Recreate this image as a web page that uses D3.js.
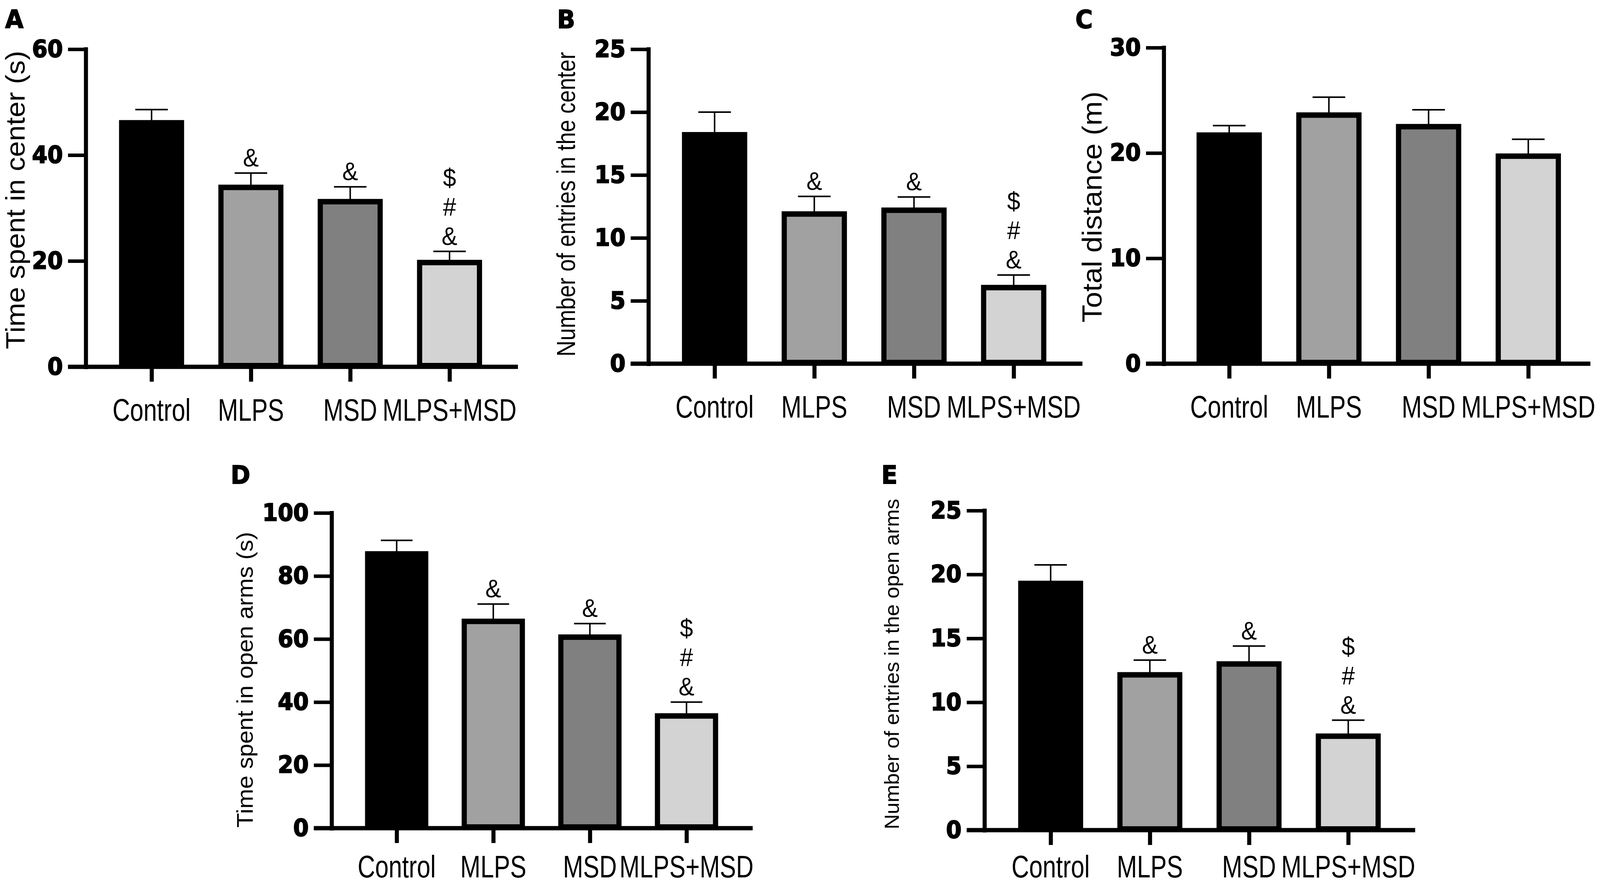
<!DOCTYPE html>
<html><head><meta charset="utf-8">
<script src="https://cdn.jsdelivr.net/npm/d3@7"></script>
<style>html,body{margin:0;padding:0;background:#fff;overflow:hidden;width:100%;height:100%;} svg{display:block;background:#fff;width:100vw;height:100vh;}</style>
</head><body><svg id="chart" viewBox="0 0 4328 2268" preserveAspectRatio="none"></svg>
<script>
// ---------- data ----------
const categories = ["Control", "MLPS", "MSD", "MLPS+MSD"];

const meanA = [46.1, 33.9, 31.2, 19.7];
const semA  = [2.5, 2.7, 2.8, 2.1];
const ticksA = [0, 20, 40, 60];
const annotA = [[], ["&"], ["&"], ["&", "#", "$"]];

const meanB = [18.2, 11.9, 12.2, 6.05];
const semB  = [1.8, 1.4, 1.05, 1.0];
const ticksB = [0, 5, 10, 15, 20, 25];
const annotB = [[], ["&"], ["&"], ["&", "#", "$"]];

const meanC = [21.7, 23.6, 22.5, 19.7];
const semC  = [0.9, 1.7, 1.6, 1.6];
const ticksC = [0, 10, 20, 30];
const annotC = [[], [], [], []];

const meanD = [87.0, 65.6, 60.6, 35.6];
const semD  = [4.3, 5.5, 4.3, 4.4];
const ticksD = [0, 20, 40, 60, 80, 100];
const annotD = [[], ["&"], ["&"], ["&", "#", "$"]];

const meanE = [19.3, 12.15, 13.0, 7.35];
const semE  = [1.45, 1.15, 1.4, 1.25];
const ticksE = [0, 5, 10, 15, 20, 25];
const annotE = [[], ["&"], ["&"], ["&", "#", "$"]];

const panelLetters = ["A", "B", "C", "D", "E"];
const yTitles = [
  "Time spent in center (s)",
  "Number of entries in the center",
  "Total distance (m)",
  "Time spent in open arms (s)",
  "Number of entries in the open arms"
];

// ---------- style / layout ----------
const fills = ["#000000", "#a1a1a1", "#808080", "#d3d3d3"];
const layouts = [
  {axisX: 232,  yTop: 126,  yBot: 939,  x0: 410,  x1: 1216, xEnd: 1401, lx: 14,   ly: 72,   tx: 67,   ty: 512,  ts: 73, narrow: false},
  {axisX: 1754, yTop: 126,  yBot: 931,  x0: 1933, x1: 2742, xEnd: 2928, lx: 1507, ly: 72,   tx: 1555, ty: 523,  ts: 71, narrow: true},
  {axisX: 3148, yTop: 122,  yBot: 931,  x0: 3325, x1: 4134, xEnd: 4302, lx: 2909, ly: 72,   tx: 2980, ty: 530,  ts: 75, narrow: false},
  {axisX: 897,  yTop: 1313, yBot: 2120, x0: 1073, x1: 1857, xEnd: 2036, lx: 624,  ly: 1238, tx: 684,  ty: 1740, ts: 61, narrow: false},
  {axisX: 2663, yTop: 1307, yBot: 2125, x0: 2842, x1: 3647, xEnd: 3828, lx: 2384, ly: 1238, tx: 2431, ty: 1700, ts: 54, narrow: false}
];

const panels = [
  {means: meanA, sems: semA, ticks: ticksA, annot: annotA},
  {means: meanB, sems: semB, ticks: ticksB, annot: annotB},
  {means: meanC, sems: semC, ticks: ticksC, annot: annotC},
  {means: meanD, sems: semD, ticks: ticksD, annot: annotD},
  {means: meanE, sems: semE, ticks: ticksE, annot: annotE}
];

const svg = d3.select("#chart");
svg.append("rect").attr("width", 4328).attr("height", 2268).attr("fill", "#fff");

const AXW = 11, TICKW = 9, BARSW = 14;

panels.forEach((p, k) => {
  const L = layouts[k];
  const g = svg.append("g");
  const y = d3.scaleLinear().domain([0, d3.max(p.ticks)]).range([L.yBot, L.yTop]);
  const x = d3.scalePoint().domain(categories).range([L.x0, L.x1]);
  const step = x.step();
  const barW = step * 0.655;
  const capW = barW * 0.5;
  const rows = categories.map((c, i) => ({c, i, m: p.means[i], s: p.sems[i], a: p.annot[i]}));

  // error bars (upper only)
  const eb = g.append("g");
  eb.selectAll("line.v").data(rows).join("line")
    .attr("x1", d => x(d.c)).attr("x2", d => x(d.c))
    .attr("y1", d => y(d.m)).attr("y2", d => y(d.m + d.s))
    .attr("stroke", "#000").attr("stroke-width", 4);
  eb.selectAll("line.h").data(rows).join("line")
    .attr("x1", d => x(d.c) - capW / 2).attr("x2", d => x(d.c) + capW / 2)
    .attr("y1", d => y(d.m + d.s)).attr("y2", d => y(d.m + d.s))
    .attr("stroke", "#000").attr("stroke-width", 4);

  // bars
  g.selectAll("rect.bar").data(rows).join("rect")
    .attr("x", d => x(d.c) - barW / 2 + BARSW / 2)
    .attr("width", barW - BARSW)
    .attr("y", d => y(d.m))
    .attr("height", d => y(0) - y(d.m) - 3)
    .attr("fill", d => fills[d.i])
    .attr("stroke", "#000").attr("stroke-width", BARSW);

  // annotations
  const ann = [];
  rows.forEach(d => d.a.forEach((s, j) => ann.push({c: d.c, top: d.m + d.s, s, j})));
  g.selectAll("text.ann").data(ann).join("text")
    .attr("x", d => x(d.c))
    .attr("y", d => y(d.top) - 17 - d.j * 75)
    .attr("text-anchor", "middle")
    .attr("font-family", "'Liberation Sans', Arial, sans-serif")
    .attr("font-size", 64)
    .attr("fill", "#000")
    .text(d => d.s);

  // y axis
  const ya = d3.axisLeft(y).tickValues(p.ticks).tickSize(48).tickSizeOuter(0).tickPadding(14).tickFormat(d3.format("d"));
  const yg = g.append("g").attr("transform", `translate(${L.axisX},0)`).call(ya);
  yg.select(".domain").attr("stroke", "#000").attr("stroke-width", AXW).attr("stroke-linecap", "square");
  yg.selectAll(".tick line").attr("stroke", "#000").attr("stroke-width", TICKW);
  yg.selectAll(".tick text")
    .attr("font-family", "'DejaVu Sans', sans-serif")
    .attr("font-weight", "bold")
    .attr("font-size", 60)
    .attr("fill", "#000")
    .attr("stroke", "#000").attr("stroke-width", 2.5);

  // x axis line (extends left to the y tick ends)
  g.append("line")
    .attr("x1", L.axisX - 48).attr("x2", L.xEnd)
    .attr("y1", y(0)).attr("y2", y(0))
    .attr("stroke", "#000").attr("stroke-width", AXW);

  // x ticks
  const xa = d3.axisBottom(x).tickSize(38).tickSizeOuter(0).tickFormat("");
  const xg = g.append("g").attr("transform", `translate(0,${y(0)})`).call(xa);
  xg.select(".domain").remove();
  xg.selectAll(".tick line").attr("stroke", "#000").attr("stroke-width", 11);

  // x labels (condensed)
  const labY = Math.min(y(0) + 138, 2246);
  g.selectAll("text.xl").data(categories).join("text")
    .attr("transform", c => `translate(${x(c)},${labY}) scale(0.82,1)`)
    .attr("text-anchor", "middle")
    .attr("font-family", "'Liberation Sans', Arial, sans-serif")
    .attr("font-size", 80)
    .attr("fill", "#000")
    .text(c => c);

  // y title
  g.append("text")
    .attr("transform", `translate(${L.tx},${L.ty}) rotate(-90)` + (L.narrow ? " scale(0.8,1)" : ""))
    .attr("text-anchor", "middle")
    .attr("font-family", "'Liberation Sans', Arial, sans-serif")
    .attr("font-size", L.ts)
    .attr("fill", "#000")
    .text(yTitles[k]);

  // panel letter
  g.append("text")
    .attr("x", L.lx).attr("y", L.ly)
    .attr("font-family", "'DejaVu Sans', sans-serif")
    .attr("font-weight", "bold")
    .attr("font-size", 64)
    .attr("fill", "#000")
    .attr("stroke", "#000").attr("stroke-width", 2)
    .text(panelLetters[k]);
});
</script></body></html>
